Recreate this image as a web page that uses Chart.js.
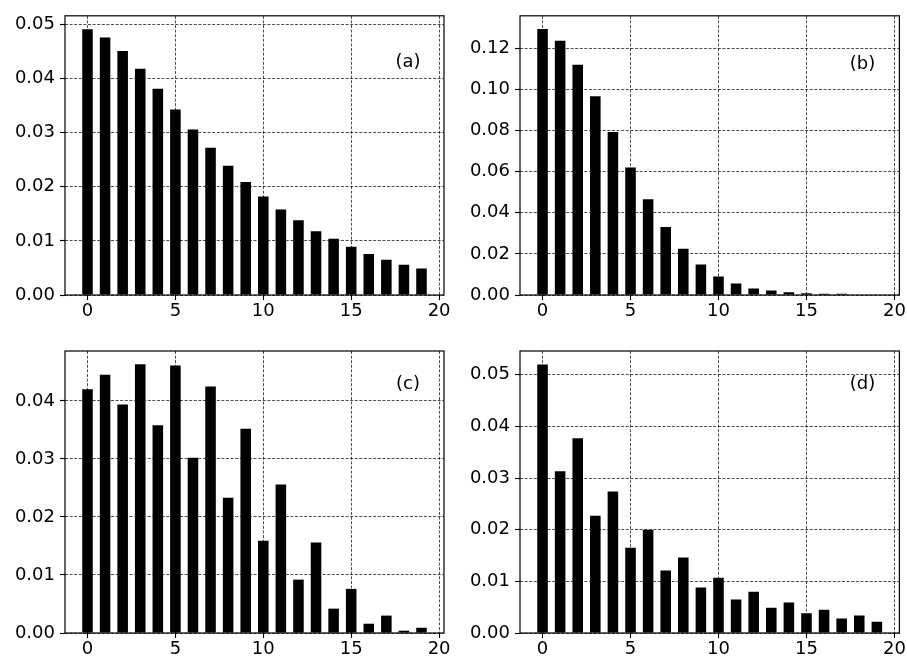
<!DOCTYPE html>
<html>
<head>
<meta charset="utf-8">
<script src="https://cdn.jsdelivr.net/npm/chart.js@4/dist/chart.umd.min.js"></script>
<style>
  body { margin: 0; background: #fff; }
  #wrap { position: relative; width: 907px; height: 663px; }
  canvas { position: absolute; }
</style>
</head>
<body>
<div id="wrap">
  <canvas id="chartA" width="453" height="330" style="left:0;top:0"></canvas>
  <canvas id="chartB" width="454" height="330" style="left:453px;top:0"></canvas>
  <canvas id="chartC" width="453" height="333" style="left:0;top:330px"></canvas>
  <canvas id="chartD" width="454" height="333" style="left:453px;top:330px"></canvas>
</div>
<script>
// x positions of the bars
var categories = [0, 1, 2, 3, 4, 5, 6, 7, 8, 9, 10, 11, 12, 13, 14, 15, 16, 17, 18, 19];

// bar heights
var valuesA = [0.0491, 0.0476, 0.0451, 0.0418, 0.0381, 0.0343, 0.0306, 0.0272, 0.0239, 0.0209,
               0.0182, 0.0158, 0.0138, 0.0118, 0.0104, 0.0089, 0.0076, 0.0065, 0.0056, 0.0049];
var valuesB = [0.1295, 0.1237, 0.1121, 0.0967, 0.0794, 0.0620, 0.0466, 0.0331, 0.0225, 0.0148,
               0.0090, 0.0056, 0.0032, 0.0022, 0.0013, 0.0008, 0.0006, 0.0006, 0.0003, 0.0002];
var valuesC = [0.0420, 0.0445, 0.0394, 0.0463, 0.0358, 0.0461, 0.0302, 0.0425, 0.0233, 0.0352,
               0.0159, 0.0256, 0.0092, 0.0156, 0.0042, 0.0076, 0.0016, 0.0030, 0.0004, 0.0009];
var valuesD = [0.0520, 0.0313, 0.0377, 0.0227, 0.0274, 0.0165, 0.0200, 0.0121, 0.0146, 0.0088,
               0.0107, 0.0065, 0.0080, 0.0049, 0.0059, 0.0038, 0.0045, 0.0028, 0.0034, 0.0022];

// tick labels
var xTicks = [0, 5, 10, 15, 20];
var yTicksA = ["0.00", "0.01", "0.02", "0.03", "0.04", "0.05"];
var yTicksB = ["0.00", "0.02", "0.04", "0.06", "0.08", "0.10", "0.12"];
var yTicksC = ["0.00", "0.01", "0.02", "0.03", "0.04"];
var yTicksD = ["0.00", "0.01", "0.02", "0.03", "0.04", "0.05"];

var panelLabels = ["(a)", "(b)", "(c)", "(d)"];

Chart.defaults.font.family = "'DejaVu Sans', sans-serif";
Chart.defaults.font.size = 18;
Chart.defaults.color = "#000";

// frame round the plot area and the panel letter
var framePlugin = {
    id: "frame",
    afterDraw: function (chart, args, opts) {
        var a = chart.chartArea;
        var ctx = chart.ctx;
        ctx.save();
        ctx.strokeStyle = "#000";
        ctx.lineWidth = 1.2;
        ctx.strokeRect(a.left, a.top, a.right - a.left, a.bottom - a.top);
        ctx.font = "18px 'DejaVu Sans', sans-serif";
        ctx.fillStyle = "#000";
        ctx.textAlign = "center";
        ctx.textBaseline = "middle";
        ctx.fillText(opts.text, a.left + opts.fx * (a.right - a.left), a.top + opts.fy * (a.bottom - a.top));
        ctx.restore();
    }
};

function makeChart(id, values, yTicks, yMax, label, fx, fy, yWidth, xHeight, top, right) {
    var points = categories.map(function (c, i) {
        return { x: c, y: values[i] };
    });
    return new Chart(document.getElementById(id), {
        type: "bar",
        data: {
            datasets: [{
                data: points,
                backgroundColor: "#000",
                borderWidth: 0,
                barPercentage: 0.6,
                categoryPercentage: 1.0
            }]
        },
        options: {
            responsive: false,
            animation: false,
            layout: { padding: { left: 0, top: top, right: right, bottom: 0 } },
            plugins: {
                legend: { display: false },
                tooltip: { enabled: false },
                frame: { text: label, fx: fx, fy: fy }
            },
            scales: {
                x: {
                    type: "linear",
                    min: -1.28,
                    max: 20.28,
                    offset: false,
                    afterBuildTicks: function (axis) {
                        axis.ticks = xTicks.map(function (v) { return { value: v }; });
                    },
                    afterFit: function (axis) { axis.height = xHeight; },
                    ticks: { padding: 1, maxRotation: 0, autoSkip: false },
                    grid: {
                        offset: false,
                        color: "rgba(0,0,0,0.78)",
                        lineWidth: 0.9,
                        tickColor: "#000",
                        tickWidth: 1.1,
                        tickLength: 5,
                        tickBorderDash: []
                    },
                    border: { display: false, dash: [3, 1.6] }
                },
                y: {
                    min: 0,
                    max: yMax,
                    afterBuildTicks: function (axis) {
                        axis.ticks = yTicks.map(function (t) { return { value: parseFloat(t) }; });
                    },
                    afterFit: function (axis) { axis.width = yWidth; },
                    ticks: {
                        padding: 5,
                        autoSkip: false,
                        callback: function (v, i) { return yTicks[i]; }
                    },
                    grid: {
                        color: "rgba(0,0,0,0.78)",
                        lineWidth: 0.9,
                        tickColor: "#000",
                        tickWidth: 1.1,
                        tickLength: 5,
                        tickBorderDash: []
                    },
                    border: { display: false, dash: [3, 1.6] }
                }
            }
        },
        plugins: [framePlugin]
    });
}

makeChart("chartA", valuesA, yTicksA, 0.0516, panelLabels[0], 0.905, 0.165, 65, 35, 13, 9);
makeChart("chartB", valuesB, yTicksB, 0.1359, panelLabels[1], 0.903, 0.174, 67, 35, 13, 7);
makeChart("chartC", valuesC, yTicksC, 0.0486, panelLabels[2], 0.905, 0.118, 65, 30, 21, 9);
makeChart("chartD", valuesD, yTicksD, 0.0546, panelLabels[3], 0.903, 0.118, 67, 30, 21, 7);
</script>
</body>
</html>
